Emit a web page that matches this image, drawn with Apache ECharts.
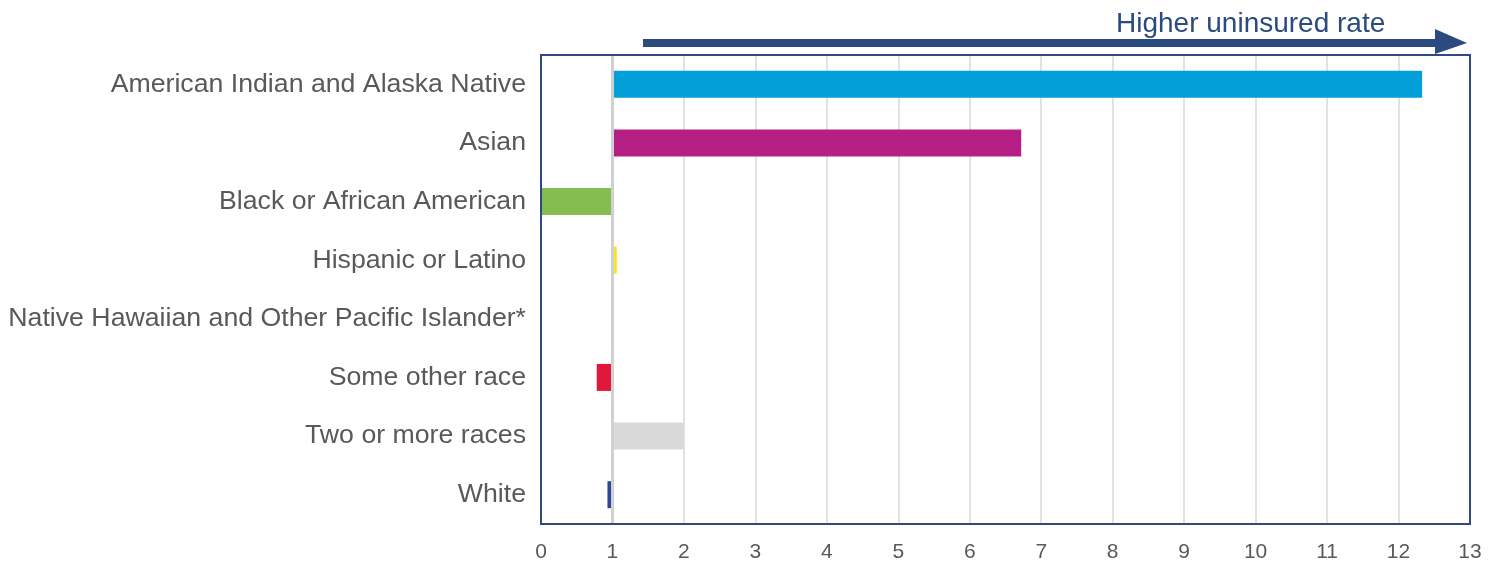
<!DOCTYPE html>
<html>
<head>
<meta charset="utf-8">
<script src="https://cdn.jsdelivr.net/npm/echarts@6/dist/echarts.min.js"></script>
<style>html,body{margin:0;padding:0;background:#fff}#c{width:1500px;height:565px}</style>
</head>
<body>
<div id="c"></div>
<script>
var categories = ["American Indian and Alaska Native","Asian","Black or African American","Hispanic or Latino","Native Hawaiian and Other Pacific Islander*","Some other race","Two or more races","White"];
var values = [12.33, 6.72, 0.0, 1.06, null, 0.78, 2.0, 0.93];
var colors = ["#039FD9","#B51E83","#86BD4F","#FFE01A","#FFFFFF","#E0193C","#D9D9D9","#2A4699"];
var baseline = 1;
var xTicks = [0,1,2,3,4,5,6,7,8,9,10,11,12,13];
var arrowLabel = "Higher uninsured rate";

var FONT = "'Liberation Sans', Arial, sans-serif";
var helper = values.map(function(v){ return v == null ? null : Math.min(v, baseline); });
var delta = values.map(function(v, i){
  return v == null ? null : {value: Math.abs(v - baseline), itemStyle: {color: colors[i]}};
});

var chart = echarts.init(document.getElementById('c'));
chart.setOption({
  animation: false,
  grid: {left: 541, right: 30, top: 55, bottom: 41, show: false},
  xAxis: {
    type: 'value', min: 0, max: 13, interval: 1,
    axisLine: {show: false}, axisTick: {show: false},
    axisLabel: {color: '#595959', fontSize: 21, fontFamily: FONT, margin: 18,
      formatter: function(v){ return xTicks.indexOf(v) >= 0 ? String(v) : ''; }},
    splitLine: {show: true, lineStyle: {color: '#D9D9D9', width: 1.5}}
  },
  yAxis: {
    type: 'category', data: categories, inverse: true,
    axisLine: {show: false}, axisTick: {show: false},
    axisLabel: {color: '#595959', fontSize: 26.7, fontFamily: FONT, margin: 15, padding: [4, 0, 0, 0]}
  },
  series: [
    {type: 'bar', stack: 's', data: helper, barWidth: 27, itemStyle: {color: 'transparent'}, silent: true,
     markLine: {silent: true, symbol: 'none', label: {show: false},
       lineStyle: {color: '#D0D0D0', width: 3, type: 'solid'}, data: [{xAxis: baseline}]},
     z: 1},
    {type: 'bar', stack: 's', data: delta, barWidth: 27, z: 3}
  ],
  graphic: [
    {type: 'rect', z: 100, shape: {x: 541, y: 55, width: 929, height: 469}, style: {fill: 'none', stroke: '#2E4A80', lineWidth: 2}},
    {type: 'rect', shape: {x: 643, y: 39, width: 795, height: 8}, style: {fill: '#2B4A7E'}},
    {type: 'polygon', shape: {points: [[1435, 29], [1467, 43], [1435, 54]]}, style: {fill: '#2B4A7E'}},
    {type: 'text', left: 1116, top: 10, style: {text: arrowLabel, fill: '#2B4A7E', fontSize: 28, fontFamily: FONT}}
  ]
});
</script>
</body>
</html>
